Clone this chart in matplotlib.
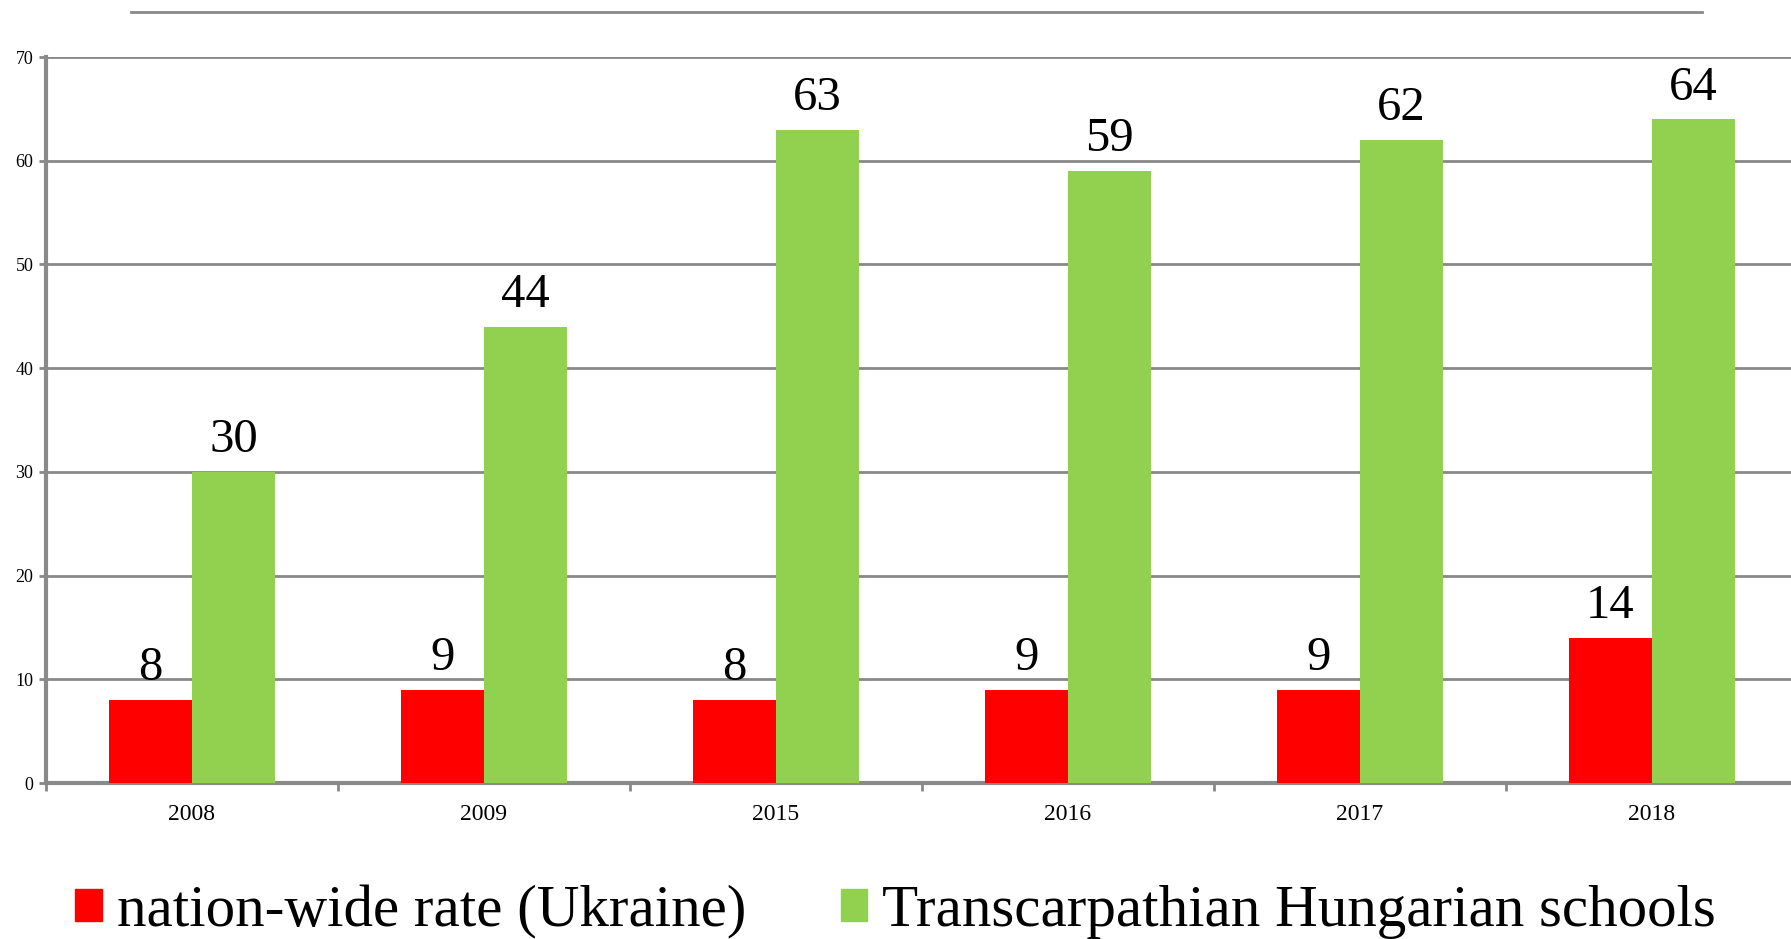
import numpy as np
import matplotlib.pyplot as plt
from matplotlib.lines import Line2D
from matplotlib.patches import Patch

# data
years = ['2008', '2009', '2015', '2016', '2017', '2018']
nation_rate = [8, 9, 8, 9, 9, 14]
hungarian_schools = [30, 44, 63, 59, 62, 64]

red = '#FF0000'
green = '#92D050'
grey = '#898989'
plt.rcParams['font.family'] = ['Liberation Serif', 'DejaVu Serif']

fig = plt.figure(figsize=(17.91, 9.39), dpi=100)
ax = fig.add_axes([46/1791, 1-783/939, 1752/1791, (783-57)/939])

x = np.arange(len(years))
w = 0.284
b1 = ax.bar(x - w/2, nation_rate, w, color=red, zorder=3)
b2 = ax.bar(x + w/2, hungarian_schools, w, color=green, zorder=3)

for bars, vals in ((b1, nation_rate), (b2, hungarian_schools)):
	for bar, v in zip(bars, vals):
		ax.annotate(str(v), (bar.get_x() + bar.get_width()/2, v), xytext=(0, 7),
			textcoords='offset points', ha='center', va='bottom', fontsize=35)

ax.set_xlim(-0.5, len(years) - 0.5)
ax.set_ylim(0, 70)
ax.set_yticks(range(0, 71, 10))
ax.yaxis.grid(True, color=grey, linewidth=2, zorder=0)
ax.set_axisbelow(True)

# boundaries as major ticks, year labels on minor ticks
ax.set_xticks(np.arange(-0.5, len(years), 1))
ax.set_xticklabels([])
ax.set_xticks(x, minor=True)
ax.set_xticklabels(years, minor=True, fontsize=17)
ax.tick_params(axis='x', which='major', length=6, width=2, color=grey, direction='out')
ax.tick_params(axis='x', which='minor', length=0, pad=15)
ax.tick_params(axis='y', length=5, width=2, color=grey, labelsize=13, pad=4)

for s in ['top', 'right']:
	ax.spines[s].set_visible(False)
for s in ['left', 'bottom']:
	ax.spines[s].set_color(grey)
	ax.spines[s].set_linewidth(3)

# thin line at the top of the slide
fig.add_artist(Line2D([131/1791, 1702/1791], [1-12/939, 1-12/939], color=grey, linewidth=2))

handles = [Patch(color=red), Patch(color=green)]
fig.legend(handles, ['nation-wide rate (Ukraine)', 'Transcarpathian Hungarian schools'],
	loc='center', bbox_to_anchor=(0.5, 1-912/939), ncol=2, frameon=False, fontsize=42.5,
	handlelength=0.45, handleheight=0.45, handletextpad=0.25, columnspacing=1.6)

fig.savefig('out.png', dpi=100)
